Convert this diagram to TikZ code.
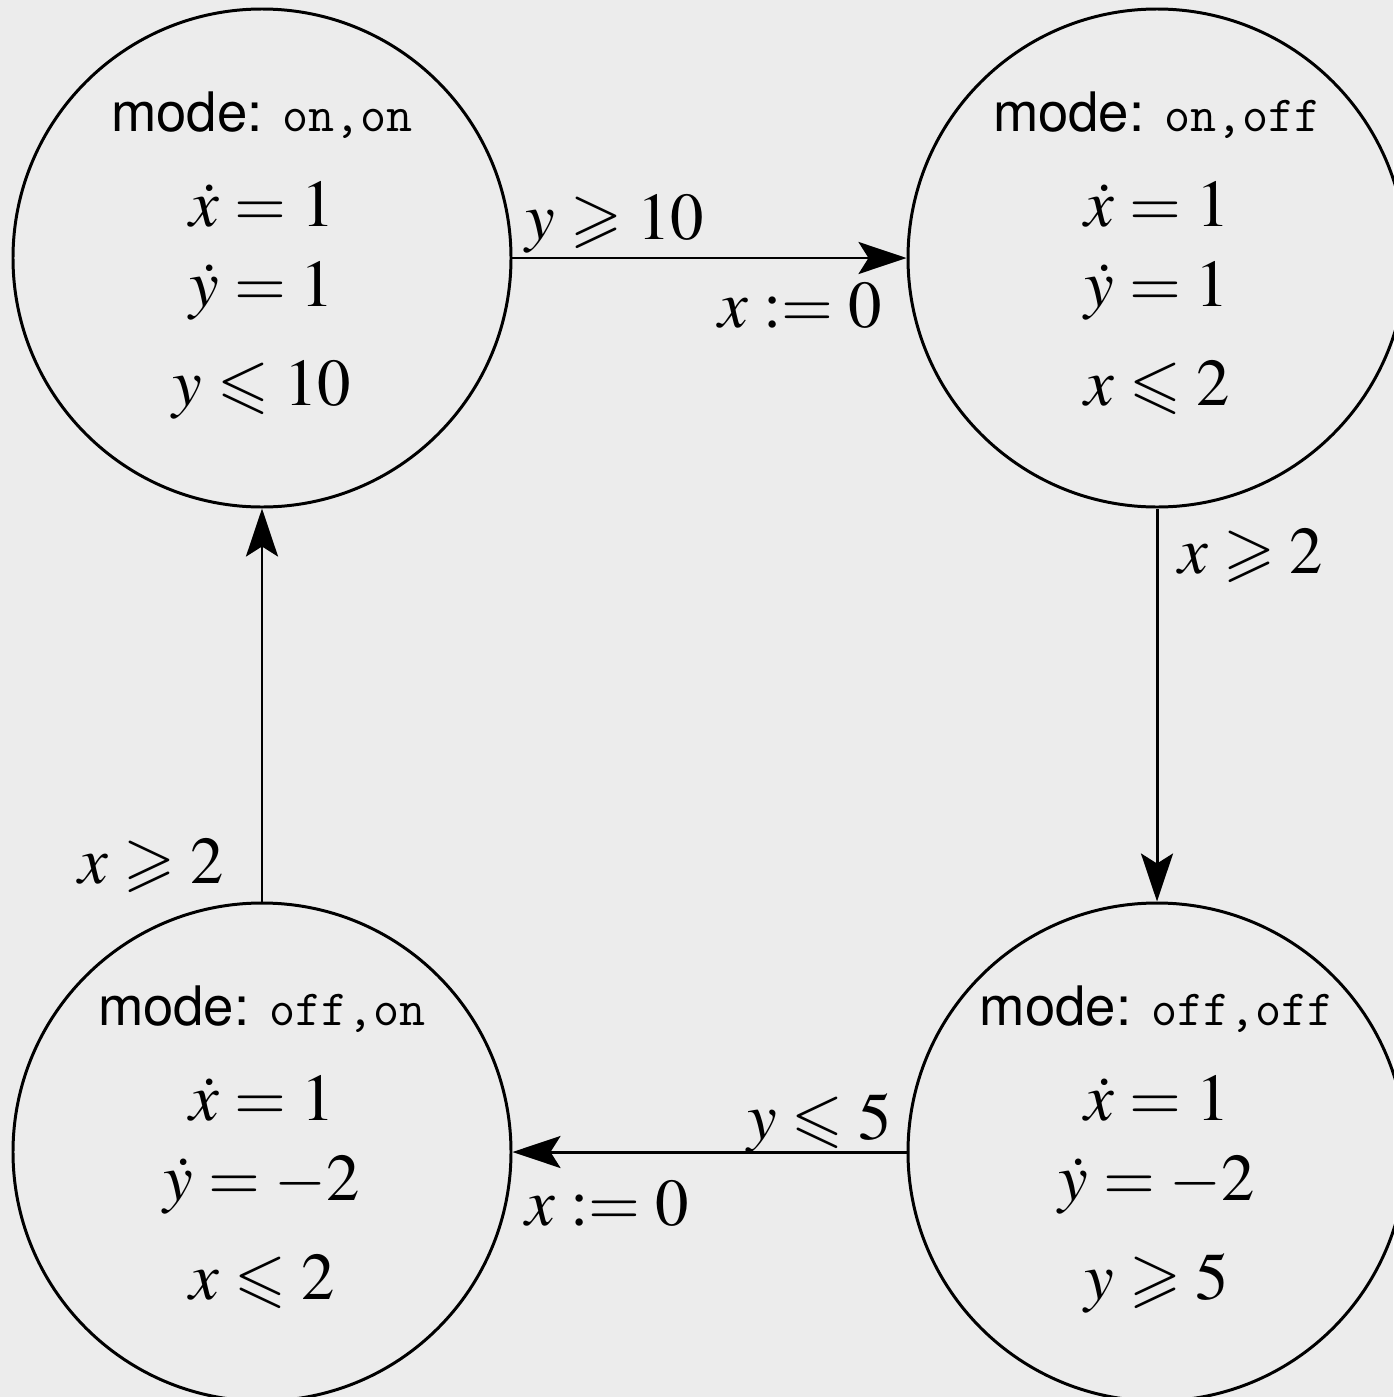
\documentclass[tikz,border=0pt]{standalone}
\usepackage{mathptmx}
\usepackage{amssymb}
\usepackage[no-math]{fontspec}
\setsansfont{TeX Gyre Heros}
\usetikzlibrary{arrows.meta}

\definecolor{bggray}{RGB}{236,236,236}
\newcommand{\modeline}[1]{{\fontsize{15.5}{18}\selectfont\sffamily mode: \fontsize{14.4}{16}\selectfont\ttfamily #1}}
\newcommand{\lowstrut}{\rule[-5.5pt]{0pt}{5.5pt}}

\begin{document}
\begin{tikzpicture}[
    loc/.style={circle, draw, line width=0.85pt, minimum size=4.98cm, inner sep=0pt, align=center, font=\fontsize{19}{23}\selectfont},
    trans/.style={-{Stealth[length=4.8mm, width=3.2mm, inset=1mm]}, line width=0.85pt},
    guard/.style={font=\fontsize{19}{23}\selectfont, inner sep=0pt}
]
    \fill[bggray] (0,0) rectangle (13.93,-13.97);
    \useasboundingbox (0,0) rectangle (13.93,-13.97);

    \node[loc] (onon) at (2.62,-2.58) {\modeline{on,on}\\[4pt] $\dot{x}=1$\\ $\dot{y}=1$\\[5pt] $y\leqslant 10$\lowstrut};
    \node[loc] (onoff) at (11.57,-2.58) {\modeline{on,off}\\[4pt] $\dot{x}=1$\\ $\dot{y}=1$\\[5pt] $x\leqslant 2$\lowstrut};
    \node[loc] (offoff) at (11.57,-11.52) {\modeline{off,off}\\[4pt] $\dot{x}=1$\\ $\dot{y}=-2$\\[5pt] $y\geqslant 5$\lowstrut};
    \node[loc] (offon) at (2.62,-11.52) {\modeline{off,on}\\[4pt] $\dot{x}=1$\\ $\dot{y}=-2$\\[5pt] $x\leqslant 2$\lowstrut};

    \draw[trans] (onon) -- (onoff)
        node[guard, pos=0.26, anchor=base, yshift=0.19cm]{$y\geqslant 10$}
        node[guard, pos=0.73, anchor=base, yshift=-0.69cm]{$x:=0$};
    \draw[trans] (onoff) -- (offoff)
        node[guard, pos=0.165, anchor=base west, xshift=0.2cm]{$x\geqslant 2$};
    \draw[trans] (offoff) -- (offon)
        node[guard, pos=0.22, anchor=base, yshift=0.13cm]{$y\leqslant 5$}
        node[guard, pos=0.76, anchor=base, yshift=-0.73cm]{$x:=0$};
    \draw[trans] (offon) -- (onon)
        node[guard, pos=0.045, anchor=base east, xshift=-0.37cm]{$x\geqslant 2$};

\end{tikzpicture}
\end{document}
